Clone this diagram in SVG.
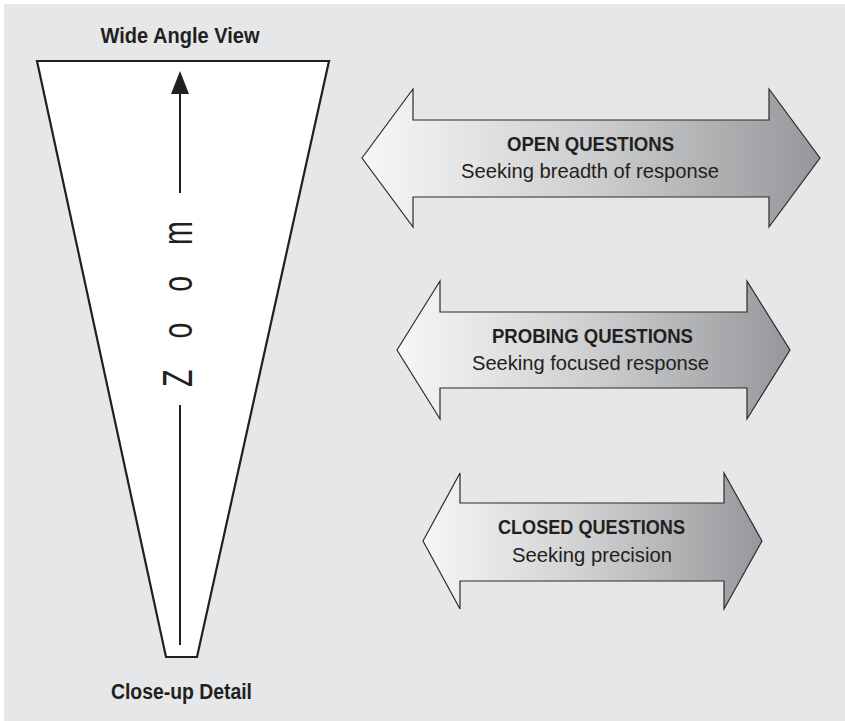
<svg xmlns="http://www.w3.org/2000/svg" width="845" height="721" viewBox="0 0 845 721">
<defs>
<linearGradient id="arrowGrad" x1="0" y1="0" x2="1" y2="0">
<stop offset="0" stop-color="#f7f7f8"/>
<stop offset="0.5" stop-color="#cdcecf"/>
<stop offset="1" stop-color="#96979a"/>
</linearGradient>
<style>
.lbl{font-family:"Liberation Sans",Arial,sans-serif;font-weight:bold;font-size:21.5px;fill:#231f20;text-anchor:middle}
.ttl{font-family:"Liberation Sans",Arial,sans-serif;font-weight:bold;font-size:21px;fill:#231f20;text-anchor:middle}
.sub{font-family:"Liberation Sans",Arial,sans-serif;font-size:21px;fill:#231f20;text-anchor:middle}
.arrow{fill:url(#arrowGrad);stroke:#2b2b2b;stroke-width:1.2;stroke-linejoin:miter}
.funnel{fill:#ffffff;stroke:#231f20;stroke-width:2.2;stroke-linejoin:miter}
.zline{stroke:#231f20;stroke-width:2;fill:none}
</style>
</defs>
<rect x="0" y="0" width="845" height="721" fill="#ffffff"/>
<rect x="4" y="4" width="841" height="717" fill="#e6e7e8"/>

<g id="funnel">
<polygon class="funnel" points="37,61 329,61 197,657 166,657"/>
<text class="lbl" x="180" y="43" textLength="159" lengthAdjust="spacingAndGlyphs">Wide Angle View</text>
<text class="lbl" x="181.5" y="699" textLength="141" lengthAdjust="spacingAndGlyphs">Close-up Detail</text>
</g>

<g id="zoom-axis">
<polygon points="180,71 171,94 189,94" fill="#231f20"/>
<line class="zline" x1="180" y1="92" x2="180" y2="193"/>
<line class="zline" x1="180" y1="405" x2="180" y2="645"/>
<text transform="translate(192,387) rotate(-90) scale(0.68,1)" x="0" y="0" font-family="Liberation Sans, Arial, sans-serif" font-size="42" letter-spacing="45.5" fill="#231f20">Zoom</text>
</g>

<g id="open-questions">
<polygon class="arrow" points="362,158 413,89 413,120 769,120 769,89 820,158 769,227 769,197 413,197 413,227"/>
<text class="ttl" x="590.5" y="151" textLength="167" lengthAdjust="spacingAndGlyphs">OPEN QUESTIONS</text>
<text class="sub" x="590" y="178" textLength="258" lengthAdjust="spacingAndGlyphs">Seeking breadth of response</text>
</g>

<g id="probing-questions">
<polygon class="arrow" points="397,350 440,281 440,312 747,312 747,281 790,350 747,419 747,388 440,388 440,419"/>
<text class="ttl" x="592.5" y="343" textLength="201" lengthAdjust="spacingAndGlyphs">PROBING QUESTIONS</text>
<text class="sub" x="590.5" y="370" textLength="237" lengthAdjust="spacingAndGlyphs">Seeking focused response</text>
</g>

<g id="closed-questions">
<polygon class="arrow" points="423,541 460,473 460,503 724,503 724,473 762,541 724,609 724,581 460,581 460,609"/>
<text class="ttl" x="591.5" y="534" textLength="187" lengthAdjust="spacingAndGlyphs">CLOSED QUESTIONS</text>
<text class="sub" x="592" y="562" textLength="160" lengthAdjust="spacingAndGlyphs">Seeking precision</text>
</g>
</svg>
